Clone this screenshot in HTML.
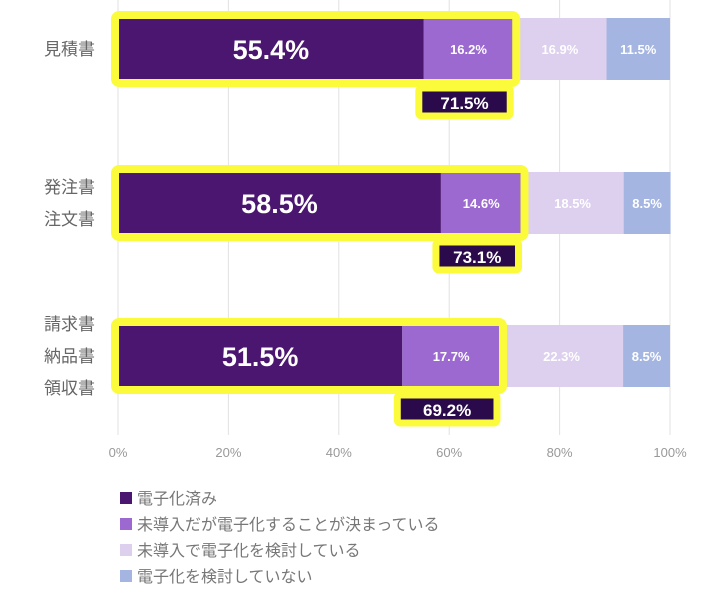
<!DOCTYPE html>
<html><head><meta charset="utf-8"><style>
body{margin:0;background:#fff;}
svg{display:block;font-family:"Liberation Sans","Noto Sans CJK JP",sans-serif;}
</style></head><body>
<svg id="c" width="710" height="605"></svg>
<script>
const categories=[["見積書"],["発注書","注文書"],["請求書","納品書","領収書"]];
const seriesDone=[55.4,58.5,51.5];
const seriesPlanned=[16.2,14.6,17.7];
const seriesConsidering=[16.9,18.5,22.3];
const seriesNot=[11.5,8.5,8.5];
const totals=["71.5%","73.1%","69.2%"];
const ticks=[0,20,40,60,80,100];
const seriesNames=["電子化済み","未導入だが電子化することが決まっている","未導入で電子化を検討している","電子化を検討していない"];
const colors=["#4b1670","#9b69cf","#ddcfee","#a3b5e0"];
const NS="http://www.w3.org/2000/svg";
const svg=document.getElementById('c');
const x0=118,x1=670;
const xs=v=>x0+(x1-x0)*v/100;
const barY=[18,172,325],barH=62;
function mk(t,a,p){const e=document.createElementNS(NS,t);for(const k in a)e.setAttribute(k,a[k]);(p||svg).appendChild(e);return e;}
// grid
ticks.forEach(t=>{
  const g=mk('line',{x1:xs(t),x2:xs(t),y1:0,y2:435,stroke:'#e2e2e2','stroke-width':1});
  
  
  const l=mk('text',{x:xs(t),y:457,'text-anchor':'middle','font-size':13,fill:'#999'});
  l.textContent=t+'%';
  
  
});
const all=[seriesDone,seriesPlanned,seriesConsidering,seriesNot];
categories.forEach((cat,i)=>{
  const y=barY[i];
  // category labels
  const n=cat.length, cy=y+barH/2;
  cat.forEach((s,j)=>{
    const t=mk('text',{x:95,y:cy+(j-(n-1)/2)*32+6,'text-anchor':'end','font-size':17,fill:'#666'});
    t.textContent=s;
    
    
  });
  let acc=0;
  all.forEach((ser,k)=>{
    const v=ser[i];
    const r=mk('rect',{x:xs(acc),y:y,width:xs(acc+v)-xs(acc),height:barH,fill:colors[k]});
    
    
    const big=k===0;
    const t=mk('text',{x:(xs(acc)+xs(acc+v))/2,y:y+barH/2+(big?10:5),'text-anchor':'middle','font-size':big?27:13,'font-weight':'bold',fill:'#fff'});
    t.textContent=v.toFixed(1)+'%';
    
    
    acc+=v;
  });
  // highlight box
  const end=xs(seriesDone[i]+seriesPlanned[i]);
  const hb=mk('rect',{x:x0-3,y:y-3,width:end-x0+6,height:barH+6,fill:'none',stroke:'#fbfb3c','stroke-width':8,rx:4});
  
  
  const s2=xs(seriesDone[i]);
  const tb=mk('rect',{x:s2-5,y:y+barH+8,width:end-s2+2,height:28,fill:'#2a0a4a',stroke:'#fbfb3c','stroke-width':7,rx:3});
  
  
  const tt=mk('text',{x:(s2-5+end-3)/2,y:y+barH+29,'text-anchor':'middle','font-size':17,'font-weight':'bold',fill:'#fff'});
  tt.textContent=totals[i];
  
  
});
// legend
seriesNames.forEach((s,k)=>{
  const y=503+k*26;
  const sq=mk('rect',{x:120,y:y-11,width:12,height:12,fill:colors[k]});
  
  
  const t=mk('text',{x:137,y:y+1,'font-size':16,fill:'#777'});
  t.textContent=s;
  
  
});
</script>
</body></html>
